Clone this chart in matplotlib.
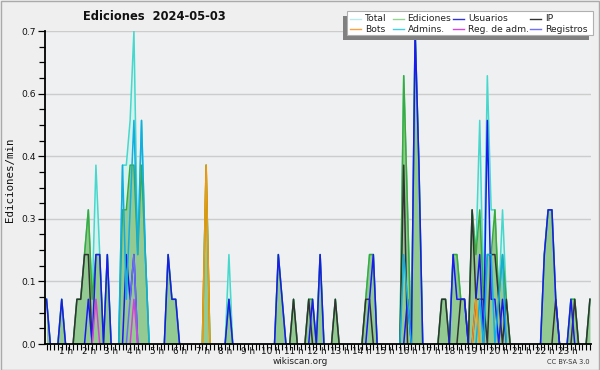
import numpy as np
import matplotlib
matplotlib.use("Agg")
import matplotlib.pyplot as plt
from matplotlib.patches import Rectangle
from matplotlib.lines import Line2D

# ---- data: edits per 10-minute bin (counts), 6 bins per hour, 4 hours per line ----
total = [1,0,0,0,1,0, 0,0,1,1,2,3, 1,4,2,0,2,0, 0,0,4,4,5,7,
         2,5,2,0,0,0, 0,0,2,1,1,0, 0,0,0,0,0,0, 4,0,0,0,0,0,
         2,0,0,0,0,0, 0,0,0,0,0,0, 0,2,1,0,0,1, 0,0,0,1,1,0,
         2,0,0,0,1,0, 0,0,0,0,0,0, 1,2,2,0,0,0, 0,0,0,0,6,3,
         0,7,4,0,0,0, 0,0,1,1,0,2, 2,1,1,0,3,2, 5,1,6,3,3,1,
         3,1,0,0,0,0, 0,0,0,0,0,2, 3,3,1,0,0,0, 1,1,0,0,0,1]
ediciones = [1,0,0,0,1,0, 0,0,1,1,2,3, 1,2,2,0,2,0, 0,0,3,3,4,4,
             2,4,2,0,0,0, 0,0,2,1,1,0, 0,0,0,0,0,0, 4,0,0,0,0,0,
             1,0,0,0,0,0, 0,0,0,0,0,0, 0,2,1,0,0,1, 0,0,0,1,1,0,
             2,0,0,0,1,0, 0,0,0,0,0,0, 1,2,2,0,0,0, 0,0,0,0,6,3,
             0,7,4,0,0,0, 0,0,1,1,0,2, 2,1,1,0,3,2, 3,1,2,2,3,1,
             2,1,0,0,0,0, 0,0,0,0,0,2, 3,3,1,0,0,0, 1,1,0,0,0,1]
usuarios = [1,0,0,0,1,0, 0,0,0,0,0,1, 0,2,2,0,2,0, 0,0,0,2,1,2,
            0,0,0,0,0,0, 0,0,2,1,1,0, 0,0,0,0,0,0, 0,0,0,0,0,0,
            1,0,0,0,0,0, 0,0,0,0,0,0, 0,2,1,0,0,0, 0,0,0,0,1,0,
            2,0,0,0,0,0, 0,0,0,0,0,0, 0,1,2,0,0,0, 0,0,0,0,0,1,
            0,7,4,0,0,0, 0,0,0,0,0,2, 1,1,1,0,0,1, 2,0,5,1,1,0,
            1,0,0,0,0,0, 0,0,0,0,0,2, 3,3,1,0,0,0, 1,0,0,0,0,0]
ip = [0,0,0,0,0,0, 0,0,1,1,2,2, 0,0,0,0,0,0, 0,0,0,0,0,0,
      0,0,0,0,0,0, 0,0,0,0,0,0, 0,0,0,0,0,0, 0,0,0,0,0,0,
      0,0,0,0,0,0, 0,0,0,0,0,0, 0,0,0,0,0,1, 0,0,0,1,0,0,
      0,0,0,0,1,0, 0,0,0,0,0,0, 1,1,0,0,0,0, 0,0,0,0,4,0,
      0,0,0,0,0,0, 0,0,1,1,0,0, 0,1,1,0,3,1, 1,1,0,2,2,1,
      0,1,0,0,0,0, 0,0,0,0,0,0, 0,0,1,0,0,0, 0,1,0,0,0,1]
bots = [0,0,0,0,0,0, 0,0,0,0,0,0, 0,0,0,0,0,0, 0,0,0,0,0,0,
        0,0,0,0,0,0, 0,0,0,0,0,0, 0,0,0,0,0,0, 4,0,0,0,0,0,
        0,0,0,0,0,0, 0,0,0,0,0,0, 0,0,0,0,0,0, 0,0,0,0,0,0,
        0,0,0,0,0,0, 0,0,0,0,0,0, 0,0,0,0,0,0, 0,0,0,0,0,0,
        0,0,0,0,0,0, 0,0,0,0,0,0, 0,0,0,0,0,1, 0,0,0,0,0,0,
        0,0,0,0,0,0, 0,0,0,0,0,0, 0,0,0,0,0,0, 0,0,0,0,0,0]
admins = [0,0,0,0,0,0, 0,0,0,0,0,0, 0,0,0,0,0,0, 0,0,4,1,3,5,
          2,5,2,0,0,0, 0,0,0,0,0,0, 0,0,0,0,0,0, 0,0,0,0,0,0,
          0,0,0,0,0,0, 0,0,0,0,0,0, 0,0,0,0,0,0, 0,0,0,0,0,0,
          0,0,0,0,0,0, 0,0,0,0,0,0, 0,0,0,0,0,0, 0,0,0,0,2,1,
          0,0,0,0,0,0, 0,0,0,0,0,0, 0,0,0,0,0,0, 1,0,2,2,0,1,
          2,0,0,0,0,0, 0,0,0,0,0,0, 0,0,0,0,0,0, 0,0,0,0,0,0]
reg_adm = [0,0,0,0,0,0, 0,0,0,0,0,0, 0,1,0,0,0,0, 0,0,0,0,0,1,
           0,0,0,0,0,0, 0,0,0,0,0,0, 0,0,0,0,0,0, 0,0,0,0,0,0,
           0,0,0,0,0,0, 0,0,0,0,0,0, 0,0,0,0,0,0, 0,0,0,0,0,0,
           0,0,0,0,0,0, 0,0,0,0,0,0, 0,0,0,0,0,0, 0,0,0,0,0,0,
           0,0,0,0,0,0, 0,0,0,0,0,0, 0,0,0,0,0,0, 0,0,0,0,0,0,
           0,0,0,0,0,0, 0,0,0,0,0,0, 0,0,0,0,0,0, 0,0,0,0,0,0]
registros = [0,0,0,0,0,0, 0,0,0,0,0,0, 0,0,0,0,0,0, 0,0,0,0,1,2,
             0,0,0,0,0,0, 0,0,0,0,0,0, 0,0,0,0,0,0, 0,0,0,0,0,0,
             0,0,0,0,0,0, 0,0,0,0,0,0, 0,0,0,0,0,0, 0,0,0,0,0,0,
             0,0,0,0,0,0, 0,0,0,0,0,0, 0,0,0,0,0,0, 0,0,0,0,0,0,
             0,0,0,0,0,0, 0,0,0,0,0,0, 0,0,0,0,0,0, 0,0,0,0,0,0,
             0,0,0,0,0,0, 0,0,0,0,0,0, 0,0,0,0,0,0, 0,0,0,0,0,0]

series_names = ["Total", "Ediciones", "Usuarios", "IP",
                "Bots", "Admins.", "Reg. de adm.", "Registros"]
hour_labels = [f"{h} h" for h in range(1, 24)]
ytick_vals = [0.0, 0.14, 0.28, 0.42, 0.56, 0.70]
ytick_labels = ["0.0", "0.1", "0.3", "0.4", "0.6", "0.7"]

colors = {"Total": "#46d8cc", "Ediciones": "#3aaa3a", "Usuarios": "#1a1aee",
          "IP": "#333333", "Bots": "#ff9400", "Admins.": "#12aee0",
          "Reg. de adm.": "#d444d4", "Registros": "#6c6cf4"}
legend_colors = {"Total": "#b8ecec", "Ediciones": "#8fd68f", "Usuarios": "#3030e0",
                 "IP": "#333333", "Bots": "#ffa040", "Admins.": "#40d0e8",
                 "Reg. de adm.": "#d844e0", "Registros": "#7070ff"}

W, H = 600, 370
fig = plt.figure(figsize=(6, 3.7), dpi=100, facecolor="#efefef")
fig.patches.append(Rectangle((0.5 / W, 0.5 / H), 1 - 1.5 / W, 1 - 1.5 / H,
                             transform=fig.transFigure, fill=False,
                             edgecolor="#aaaaaa", lw=1.0))
ax = fig.add_axes([45 / W, 1 - 344 / H, (590.5 - 45) / W, (344 - 31) / H])
ax.set_facecolor("#eef0f2")

n = len(total)
x = np.arange(n)

def vals(arr):
    return np.array(arr, dtype=float) / 10.0

def masked(arr):
    v = vals(arr)
    out = v.copy()
    m = len(v)
    for i in range(m):
        lo = v[i - 1] if i > 0 else 0
        hi = v[i + 1] if i < m - 1 else 0
        if v[i] == 0 and lo == 0 and hi == 0:
            out[i] = np.nan
    return out

for yv in ytick_vals[1:]:
    ax.axhline(yv, color="#cccccc", lw=1.0, zorder=0.5)

ax.fill_between(x, vals(total), 0, color="#d6f2ee", lw=0, zorder=1)
ax.plot(x, masked(total), color=colors["Total"], lw=1.1, zorder=1.5)
ax.fill_between(x, vals(ediciones), 0, color="#93c993", lw=0, zorder=2)
ax.plot(x, masked(ediciones), color=colors["Ediciones"], lw=1.1, zorder=2.1)
ax.plot(x, masked(ip), color=colors["IP"], lw=1.1, zorder=2.2)
ax.plot(x, masked(usuarios), color=colors["Usuarios"], lw=1.1, zorder=2.3)
ax.plot(x, masked(admins), color=colors["Admins."], lw=1.1, zorder=2.4)
ax.plot(x, masked(registros), color=colors["Registros"], lw=1.1, zorder=2.45)
ax.plot(x, masked(reg_adm), color=colors["Reg. de adm."], lw=1.1, zorder=2.5)
ax.plot(x, masked(bots), color=colors["Bots"], lw=1.1, zorder=2.6)

ax.set_xlim(-0.4, n - 1 + 0.15)
ax.set_ylim(0, 0.7)
for s in ["top", "right"]:
    ax.spines[s].set_visible(False)
for s in ["left", "bottom"]:
    ax.spines[s].set_linewidth(1.3)
    ax.spines[s].set_zorder(5)

ax.set_xticks(x)
ax.set_xticklabels([])
ax.tick_params(axis="x", which="major", length=4, width=0.8, direction="out", color="black")
for h, lab in enumerate(hour_labels, start=1):
    ax.text(6 * h - 0.9, -0.008, lab, transform=ax.get_xaxis_transform(),
            ha="center", va="top", fontsize=6.4, color="#111111")

ax.set_yticks(ytick_vals)
ax.set_yticklabels(ytick_labels, fontsize=6.6, color="#111111")
ax.set_yticks(np.arange(0, 0.7001, 0.035), minor=True)
ax.tick_params(axis="y", which="major", length=5, width=0.9, pad=1.5)
ax.tick_params(axis="y", which="minor", length=4, width=0.9)

fig.text(154 / W, 1 - 17 / H, "Ediciones  2024-05-03", ha="center", va="center",
         fontsize=8.3, fontweight="bold", color="#111111")
fig.text(10 / W, 1 - 180 / H, "Ediciones/min", rotation=90, ha="center", va="center",
         fontsize=7.8, family="DejaVu Sans Mono", color="#111111")
fig.text(300 / W, 1 - 362 / H, "wikiscan.org", ha="center", va="center",
         fontsize=6.4, color="#222222")
fig.text(590 / W, 1 - 362 / H, "CC BY-SA 3.0", ha="right", va="center",
         fontsize=4.8, color="#333333")

# legend (manual, with drop shadow)
bx0, bx1, by0, by1 = 347, 593, 11.5, 34.5
fig.patches.append(Rectangle(((bx0 - 4) / W, 1 - (by1 + 5) / H), (bx1 - bx0) / W,
                             (by1 - by0) / H, transform=fig.transFigure,
                             facecolor="#808080", edgecolor="none", zorder=8))
fig.patches.append(Rectangle((bx0 / W, 1 - by1 / H), (bx1 - bx0) / W,
                             (by1 - by0) / H, transform=fig.transFigure,
                             facecolor="white", edgecolor="#b0b0b0", lw=0.8, zorder=9))
col_x = [350, 392.5, 453, 530]
row_y = [18.5, 29.0]
for k, name in enumerate(series_names):
    r, c = divmod(k, 4)
    hx, hy = col_x[c], row_y[r]
    fig.lines.append(Line2D([hx / W, (hx + 11) / W], [1 - hy / H, 1 - hy / H],
                            transform=fig.transFigure, color=legend_colors[name],
                            lw=1.0, zorder=10))
    fig.text((hx + 15) / W, 1 - hy / H, name, ha="left", va="center",
             fontsize=6.6, color="#222222", zorder=10)

fig.savefig("out.png", dpi=100, facecolor=fig.get_facecolor())
